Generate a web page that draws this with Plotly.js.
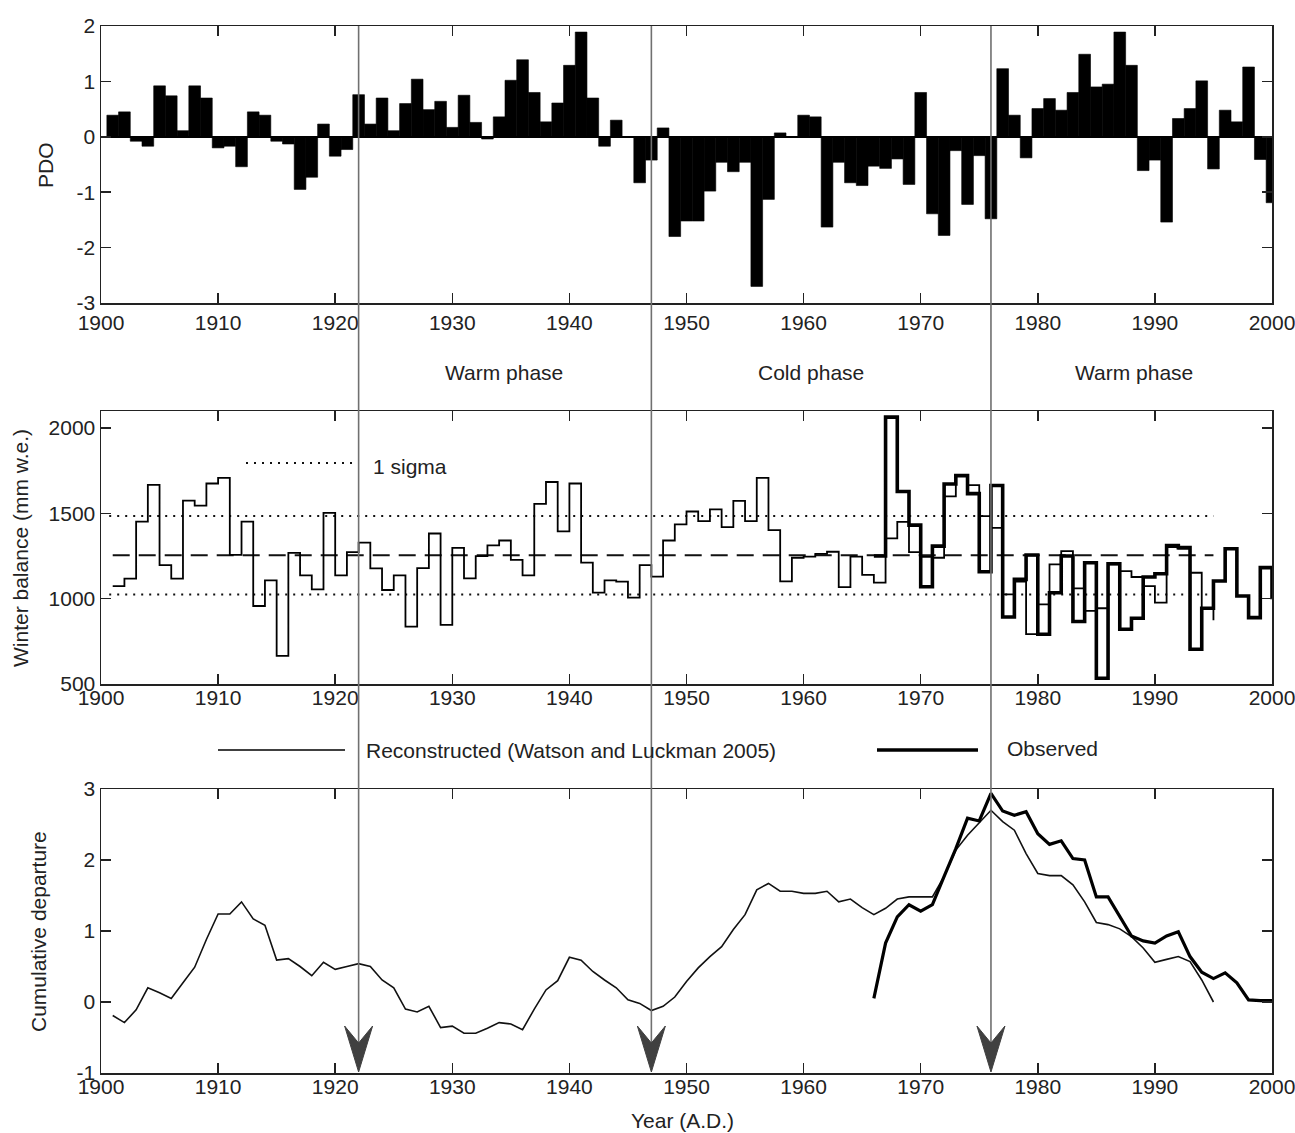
<!DOCTYPE html>
<html><head><meta charset="utf-8">
<script src="https://cdn.plot.ly/plotly-3.0.1.min.js"></script>
<style>html,body{margin:0;padding:0;background:#fff;}#chart{width:1295px;height:1133px;}</style>
</head><body><div id="chart"></div>
<script>
// ---------------- DATA ----------------
const pdoStartYear = 1901;
const pdoValues = [
 0.39, 0.45,-0.08,-0.17, 0.92, 0.74, 0.11, 0.92, 0.70,-0.20,   // 1901-1910
-0.17,-0.54, 0.45, 0.39,-0.08,-0.13,-0.95,-0.73, 0.23,-0.35,   // 1911-1920
-0.23, 0.76, 0.23, 0.70, 0.11, 0.60, 1.04, 0.49, 0.64, 0.17,   // 1921-1930
 0.75, 0.26,-0.04, 0.36, 1.02, 1.39, 0.80, 0.27, 0.61, 1.29,   // 1931-1940
 1.89, 0.70,-0.17, 0.30, 0.00,-0.83,-0.42, 0.16,-1.80,-1.52,   // 1941-1950
-1.52,-0.98,-0.46,-0.63,-0.46,-2.70,-1.13, 0.07, 0.00, 0.39,   // 1951-1960
 0.36,-1.63,-0.46,-0.83,-0.88,-0.53,-0.57,-0.40,-0.86, 0.80,   // 1961-1970
-1.39,-1.78,-0.25,-1.22,-0.34,-1.48, 1.23, 0.39,-0.38, 0.51,   // 1971-1980
 0.69, 0.48, 0.80, 1.49, 0.90, 0.95, 1.89, 1.29,-0.61,-0.42,   // 1981-1990
-1.54, 0.33, 0.51, 1.01,-0.58, 0.48, 0.27, 1.26,-0.41,-1.19    // 1991-2000
];

const reconStartYear = 1901;
const reconWinterBalance = [
 1074,1117,1452,1667,1197,1117,1575,1546,1675,1708,   // 1901-1910
 1257,1452, 957,1107, 665,1269,1137,1055,1503,1137,   // 1911-1920
 1273,1328,1178,1051,1137, 836,1179,1382, 846,1298,   // 1921-1930
 1119,1250,1312,1341,1228,1137,1556,1684,1394,1675,   // 1931-1940
 1211,1035,1107,1100,1006,1197,1129,1341,1435,1511,   // 1941-1950
 1454,1523,1419,1573,1454,1708,1402,1101,1240,1246,   // 1951-1960
 1263,1275,1068,1246,1140,1094,1353,1450,1273,1245,   // 1961-1970
 1240,1600,1721,1665,1484,1415,1025,1100, 792, 967,   // 1971-1980
 1201,1279,1061, 928, 944,1201,1162,1127,1074, 977,   // 1981-1990
 1302,1294,1152, 944, 874                             // 1991-1995
];

const obsStartYear = 1966;
const obsWinterBalance = [
 1250,2064,1628,1431,1070,1308,1672,1721,1616,1158,   // 1966-1975
 1663, 893,1113,1256, 792,1035,1250, 866,1211, 534,   // 1976-1985
 1205, 821, 885,1127,1146,1312,1299, 704, 944,1104,   // 1986-1995
 1293,1016, 889,1182, 996                             // 1996-2000
];

const winterMean = 1255;
const winterSigma = 230;

const reconCumDeparture = [
 -0.19,-0.29,-0.11, 0.20, 0.13, 0.05, 0.27, 0.49, 0.88, 1.24,   // 1901-1910
  1.24, 1.41, 1.17, 1.08, 0.59, 0.61, 0.50, 0.37, 0.56, 0.46,   // 1911-1920
  0.50, 0.54, 0.50, 0.31, 0.20,-0.10,-0.14,-0.06,-0.36,-0.34,   // 1921-1930
 -0.44,-0.44,-0.37,-0.29,-0.31,-0.39,-0.10, 0.17, 0.30, 0.63,   // 1931-1940
  0.59, 0.43, 0.31, 0.20, 0.03,-0.02,-0.12,-0.06, 0.07, 0.29,   // 1941-1950
  0.48, 0.64, 0.78, 1.02, 1.23, 1.58, 1.67, 1.56, 1.56, 1.53,   // 1951-1960
  1.53, 1.56, 1.41, 1.45, 1.33, 1.23, 1.32, 1.45, 1.48, 1.48,   // 1961-1970
  1.48, 1.77, 2.14, 2.35, 2.52, 2.70, 2.54, 2.42, 2.09, 1.81,   // 1971-1980
  1.78, 1.78, 1.65, 1.41, 1.12, 1.09, 1.03, 0.92, 0.76, 0.56,   // 1981-1990
  0.60, 0.64, 0.57, 0.31, 0.00                                  // 1991-1995
];

const obsCumDeparture = [
  0.05, 0.83, 1.20, 1.37, 1.28, 1.37, 1.77, 2.16, 2.59, 2.55,   // 1966-1975
  2.94, 2.69, 2.63, 2.68, 2.37, 2.22, 2.27, 2.02, 2.00, 1.48,   // 1976-1985
  1.48, 1.20, 0.93, 0.86, 0.83, 0.93, 0.99, 0.64, 0.42, 0.33,   // 1986-1995
  0.41, 0.27, 0.03, 0.02, 0.02                                  // 1996-2000
];

const regimeShiftYears = [1922, 1947, 1976];
const phaseLabels = ['Warm phase', 'Cold phase', 'Warm phase'];
const phaseLabelYears = [1934.4, 1960.6, 1988.2];
const xTickVals = [1900, 1910, 1920, 1930, 1940, 1950, 1960, 1970, 1980, 1990, 2000];
const pdoTicks = [-3, -2, -1, 0, 1, 2];
const wbTicks = [500, 1000, 1500, 2000];
const cumTicks = [-1, 0, 1, 2, 3];
const legendRecon = 'Reconstructed (Watson and Luckman 2005)';
const legendObs = 'Observed';
const sigmaLabel = '1 sigma';

// ---------------- HELPERS ----------------
function yearsFrom(start, n) { const a = []; for (let i = 0; i < n; i++) a.push(start + i); return a; }
const FONT = '"Liberation Sans", Arial, Helvetica, sans-serif';
const TXT = '#222';
const FS = 21;

const pdoYears = yearsFrom(pdoStartYear, pdoValues.length);
const reconYears = yearsFrom(reconStartYear, reconWinterBalance.length);
const obsYears = yearsFrom(obsStartYear, obsWinterBalance.length);
const reconCumYears = yearsFrom(reconStartYear, reconCumDeparture.length);
const obsCumYears = yearsFrom(obsStartYear, obsCumDeparture.length);

// ---------------- TRACES ----------------
const traces = [
  {type: 'bar', x: pdoYears, y: pdoValues, xaxis: 'x', yaxis: 'y', width: 1,
   marker: {color: '#000', line: {color: '#000', width: 0.6}}, hoverinfo: 'skip'},
  // mean and 1-sigma reference lines
  {type: 'scatter', mode: 'lines', x: [reconYears[0], reconYears[reconYears.length - 1]],
   y: [winterMean, winterMean], xaxis: 'x2', yaxis: 'y2',
   line: {color: '#111', width: 2, dash: '17px,9px'}, hoverinfo: 'skip'},
  {type: 'scatter', mode: 'lines', x: [reconYears[0] - 0.3, reconYears[reconYears.length - 1]],
   y: [winterMean + winterSigma, winterMean + winterSigma], xaxis: 'x2', yaxis: 'y2',
   line: {color: '#111', width: 2, dash: '2px,6px'}, hoverinfo: 'skip'},
  {type: 'scatter', mode: 'lines', x: [reconYears[0] - 0.3, reconYears[reconYears.length - 1]],
   y: [winterMean - winterSigma, winterMean - winterSigma], xaxis: 'x2', yaxis: 'y2',
   line: {color: '#111', width: 2, dash: '2px,6px'}, hoverinfo: 'skip'},
  {type: 'scatter', mode: 'lines', x: reconYears, y: reconWinterBalance, xaxis: 'x2', yaxis: 'y2',
   line: {color: '#000', width: 1.8, shape: 'hv'}, hoverinfo: 'skip'},
  {type: 'scatter', mode: 'lines', x: obsYears, y: obsWinterBalance, xaxis: 'x2', yaxis: 'y2',
   line: {color: '#000', width: 3.6, shape: 'hv'}, hoverinfo: 'skip'},
  {type: 'scatter', mode: 'lines', x: reconCumYears, y: reconCumDeparture, xaxis: 'x3', yaxis: 'y3',
   line: {color: '#111', width: 1.6}, hoverinfo: 'skip'},
  {type: 'scatter', mode: 'lines', x: obsCumYears, y: obsCumDeparture, xaxis: 'x3', yaxis: 'y3',
   line: {color: '#000', width: 3.2}, hoverinfo: 'skip'}
];

// ---------------- LAYOUT ----------------
function xAxis(anchor, standoff) {
  return {anchor: anchor, range: [1900, 2000], tickvals: xTickVals, ticks: 'inside', ticklen: 10,
    tickwidth: 1.5, tickcolor: '#222', showline: true, linecolor: '#222', linewidth: 1.5,
    mirror: 'ticks', showgrid: false, zeroline: false, fixedrange: true,
    ticklabeloverflow: 'allow', ticklabelstandoff: standoff,
    tickfont: {family: FONT, size: FS, color: TXT}};
}
function yAxis(anchor, domain, range, ticks, zl) {
  return {anchor: anchor, domain: domain, range: range, tickvals: ticks,
    ticktext: ticks.map(v => String(v)), ticks: 'inside', ticklen: 10,
    tickwidth: 1.5, tickcolor: '#222', showline: true, linecolor: '#222', linewidth: 1.5,
    mirror: 'ticks', showgrid: false, zeroline: zl, zerolinecolor: '#000', zerolinewidth: 1.5,
    ticklabeloverflow: 'allow',
    fixedrange: true, tickfont: {family: FONT, size: FS, color: TXT}};
}

const H = 1133, MT = 26, MB = 60;
const PH = H - MT - MB;
function py(pix) { return (H - MB - pix) / PH; }   // page pixel row -> paper fraction
const PL = 101, PR = 1272;
function px(pix) { return (pix - PL) / (PR - PL); }

const shapes = [];
const annotations = [];

regimeShiftYears.forEach(yr => {
  shapes.push({type: 'line', xref: 'x', yref: 'paper', x0: yr, x1: yr, y0: 1, y1: py(1045),
    line: {color: '#707070', width: 1.6}});
  shapes.push({type: 'path', xref: 'x', yref: 'paper', xsizemode: 'pixel', xanchor: yr,
    path: `M 0,${py(1072)} L -14,${py(1026)} L 0,${py(1043)} L 14,${py(1026)} Z`,
    fillcolor: '#404040', line: {color: '#404040', width: 1}});
});

// legend decorations
shapes.push({type: 'line', xref: 'paper', yref: 'paper', x0: px(218), x1: px(345), y0: py(750), y1: py(750),
  line: {color: '#000', width: 1.6}});
shapes.push({type: 'line', xref: 'paper', yref: 'paper', x0: px(877), x1: px(978), y0: py(750), y1: py(750),
  line: {color: '#000', width: 3.6}});
shapes.push({type: 'line', xref: 'paper', yref: 'paper', x0: px(246), x1: px(355), y0: py(463), y1: py(463),
  line: {color: '#111', width: 2, dash: '2px,6px'}});

function txt(text, x, y, opts) {
  annotations.push(Object.assign({text: text, x: x, y: y, xref: 'paper', yref: 'paper', showarrow: false,
    font: {family: FONT, size: FS, color: TXT}, xanchor: 'left', yanchor: 'middle'}, opts || {}));
}
txt(legendRecon, px(364), py(750));
txt(legendObs, px(1005), py(748));
txt(sigmaLabel, px(371), py(466));
phaseLabels.forEach((t, i) => {
  annotations.push({text: t, x: phaseLabelYears[i], y: py(372), xref: 'x', yref: 'paper', showarrow: false,
    font: {family: FONT, size: FS, color: TXT}, xanchor: 'center', yanchor: 'middle'});
});
txt('PDO', px(45), py(165), {textangle: -90, xanchor: 'center'});
txt('Winter balance (mm w.e.)', px(20), py(548), {textangle: -90, xanchor: 'center'});
txt('Cumulative departure', px(38), py(932), {textangle: -90, xanchor: 'center'});
txt('Year (A.D.)', px(682), py(1120), {xanchor: 'center'});

const layout = {
  width: 1295, height: H, paper_bgcolor: '#fff', plot_bgcolor: '#fff', showlegend: false,
  margin: {l: PL, r: 1295 - PR, t: MT, b: MB}, bargap: 0,
  font: {family: FONT, size: FS, color: TXT},
  xaxis: xAxis('y', 0), xaxis2: xAxis('y2', -6), xaxis3: xAxis('y3', -6),
  yaxis: yAxis('x', [py(303), 1], [-3, 2], pdoTicks, true),
  yaxis2: yAxis('x2', [py(684), py(411)], [500, 2100], wbTicks, false),
  yaxis3: yAxis('x3', [0, py(789)], [-1, 3], cumTicks, false),
  shapes: shapes, annotations: annotations
};

Plotly.newPlot('chart', traces, layout, {displayModeBar: false, staticPlot: true});
</script></body></html>
